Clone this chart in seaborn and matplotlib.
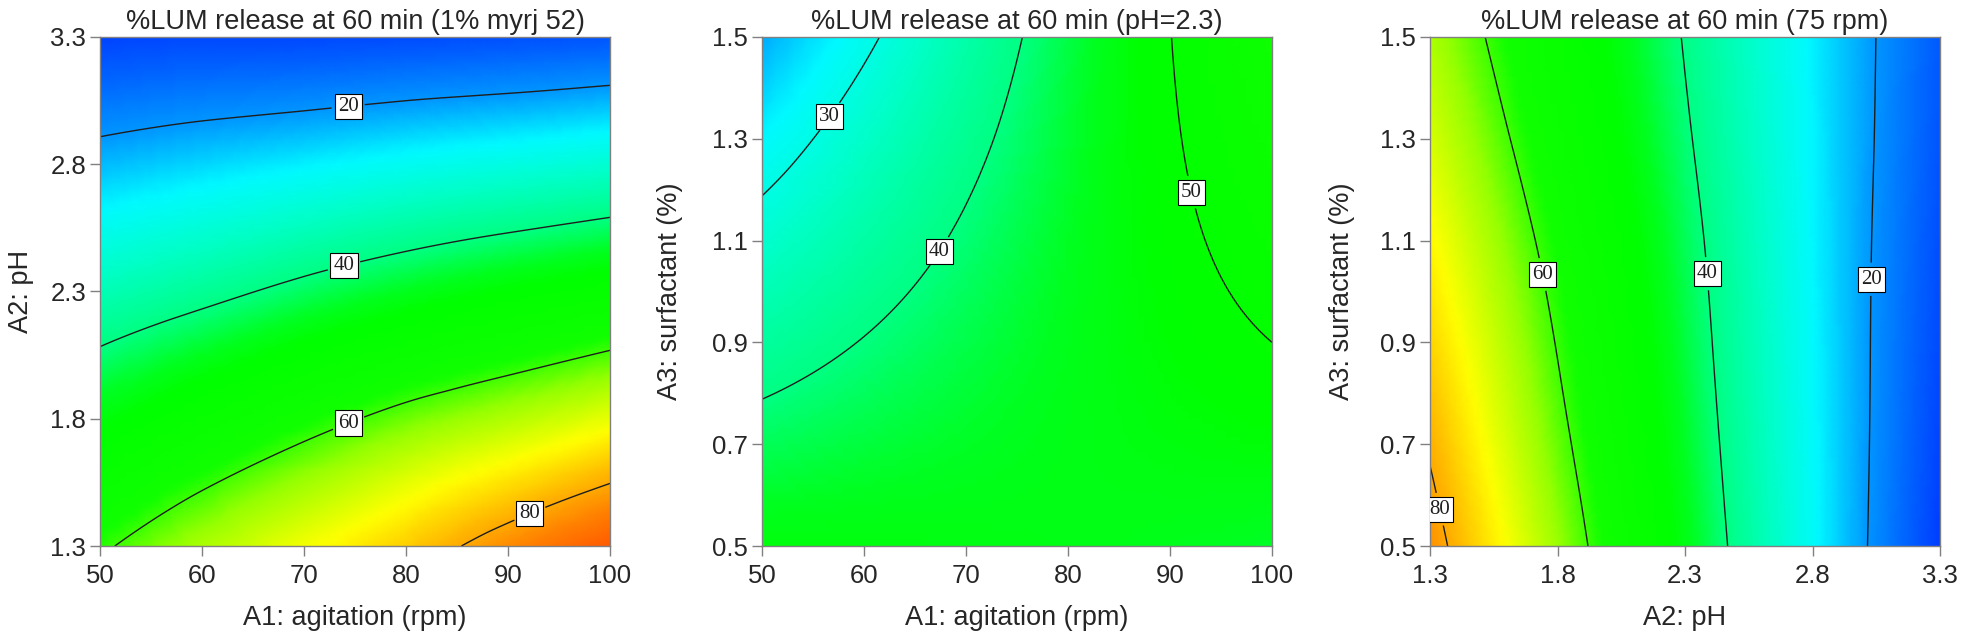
import numpy as np
import matplotlib
matplotlib.use('Agg')
import matplotlib.pyplot as plt
import matplotlib.tri as mtri
from matplotlib.colors import LinearSegmentedColormap
import seaborn as sns

# valores (superficies de respuesta %LUM a 60 min)
agitation = [50, 60, 70, 80, 90, 100]
ph = [1.3, 1.7, 2.1, 2.5, 2.9, 3.3]
surfactant = [0.5, 0.7, 0.9, 1.1, 1.3, 1.5]

# panel 1: filas = pH, columnas = agitacion (1% myrj 52)
lum_agit_ph = [
    [59.0, 65.5, 71.0, 76.5, 83.0, 89.3],
    [49.3, 55.1, 60.3, 65.3, 69.5, 74.1],
    [39.6, 43.7, 48.0, 52.0, 55.4, 58.8],
    [30.0, 32.7, 35.7, 38.6, 41.1, 43.5],
    [20.2, 21.9, 23.4, 25.1, 26.5, 28.1],
    [10.5, 11.1, 11.1, 11.5, 12.0, 12.7],
]
# panel 2: filas = surfactante, columnas = agitacion (pH=2.3)
lum_agit_surf = [
    [46.8, 46.7, 46.4, 46.0, 45.4, 44.6],
    [42.1, 43.5, 44.7, 45.8, 46.7, 47.4],
    [37.3, 40.2, 42.9, 45.4, 47.8, 50.0],
    [32.3, 36.6, 40.8, 44.8, 48.7, 52.4],
    [27.0, 32.9, 38.5, 44.0, 49.4, 54.6],
    [21.6, 28.9, 36.1, 43.1, 49.9, 56.6],
]
# panel 3: filas = surfactante, columnas = pH (75 rpm)
lum_ph_surf = [
    [82.5, 68.0, 53.4, 38.8, 24.2, 9.7],
    [79.3, 65.3, 51.6, 37.8, 24.2, 10.5],
    [75.8, 62.9, 49.9, 37.0, 24.1, 11.2],
    [72.5, 60.4, 48.3, 36.2, 24.0, 11.9],
    [68.9, 57.6, 46.4, 35.2, 24.0, 12.7],
    [65.7, 55.2, 44.8, 34.4, 23.9, 13.4],
]

titles = ['%LUM release at 60 min (1% myrj 52)',
          '%LUM release at 60 min (pH=2.3)',
          '%LUM release at 60 min (75 rpm)']
xlabels = ['A1: agitation (rpm)', 'A1: agitation (rpm)', 'A2: pH']
ylabels = ['A2: pH', 'A3: surfactant (%)', 'A3: surfactant (%)']
contour_levels = [[20, 40, 60, 80], [30, 40, 50], [20, 40, 60, 80]]
label_pos = [
    [(74.3, 3.04), (73.8, 2.42), (74.3, 1.79), (91.9, 1.45)],
    [(56.2, 1.35), (68.1, 1.07), (93.2, 1.20)],
    [(3.03, 1.024), (2.387, 1.035), (1.746, 1.034), (1.345, 0.573)],
]

# estilo
sns.set_style('ticks')
plt.rcParams['font.family'] = ['Liberation Sans', 'DejaVu Sans']

# mapa de color tipo Design-Expert
vmin, vmax = 8, 92
nodos = [(8, '#0030ff'), (14, '#0060ff'), (20, '#0096ff'), (27, '#00faff'),
         (33, '#00ffc8'), (40, '#00ff82'), (45, '#00ff1e'), (48, '#00ff00'),
         (58, '#10ff00'), (64, '#96ff00'), (72, '#ffff00'), (78, '#ffbe00'),
         (84, '#ff8200'), (92, '#ff4600')]
cmap = LinearSegmentedColormap.from_list(
    'dx', [((v - vmin) / (vmax - vmin), c) for v, c in nodos])

fig = plt.figure(figsize=(19.61, 6.31), dpi=100)
W, H = 1961, 631
lefts = [100, 762, 1430]
ylabel_x = [-0.130, -0.154, -0.148]
ax_w, ax_h, ax_bottom = 510, 509, 546

paneles = [
    (agitation, ph, lum_agit_ph, [50, 60, 70, 80, 90, 100], [1.3, 1.8, 2.3, 2.8, 3.3]),
    (agitation, surfactant, lum_agit_surf, [50, 60, 70, 80, 90, 100], [0.5, 0.7, 0.9, 1.1, 1.3, 1.5]),
    (ph, surfactant, lum_ph_surf, [1.3, 1.8, 2.3, 2.8, 3.3], [0.5, 0.7, 0.9, 1.1, 1.3, 1.5]),
]

for i, (xv, yv, zv, xt, yt) in enumerate(paneles):
    ax = fig.add_axes([lefts[i] / W, (H - ax_bottom) / H, ax_w / W, ax_h / H])
    X, Y = np.meshgrid(xv, yv)
    Z = np.array(zv)

    # triangulacion en coordenadas normalizadas para una malla regular
    xn = (X - min(xv)) / (max(xv) - min(xv))
    yn = (Y - min(yv)) / (max(yv) - min(yv))
    tri_n = mtri.Triangulation(xn.ravel(), yn.ravel())
    tri = mtri.Triangulation(X.ravel(), Y.ravel(), triangles=tri_n.triangles)
    interp = mtri.CubicTriInterpolator(tri, Z.ravel())
    refiner = mtri.UniformTriRefiner(tri)
    tri_r, z_r = refiner.refine_field(Z.ravel(), triinterpolator=interp, subdiv=4)

    ax.tripcolor(tri_r, z_r, shading='gouraud', cmap=cmap, vmin=vmin, vmax=vmax)
    cs = ax.tricontour(tri_r, z_r, levels=contour_levels[i], colors='#1e1e1e', linewidths=1.0)
    txts = ax.clabel(cs, manual=label_pos[i], inline=True, fmt='%d', fontsize=15)
    for t in txts:
        t.set_rotation(0)
        t.set_family('Liberation Serif')
        t.set_bbox(dict(boxstyle='square,pad=0.15', fc='white', ec='black', lw=0.8))

    ax.set_xlim(min(xv), max(xv))
    ax.set_ylim(min(yv), max(yv))
    ax.set_xticks(xt)
    ax.set_yticks(yt)
    ax.set_xticklabels([f'{v:g}' for v in xt])
    ax.set_yticklabels([f'{v:.1f}' for v in yt])
    ax.tick_params(direction='out', length=7, width=1, color='#808080', labelsize=18.5, pad=3)
    ax.tick_params(axis='x', pad=6)
    for sp in ax.spines.values():
        sp.set_color('#808080')
        sp.set_linewidth(1)
    ax.set_title(titles[i], fontsize=19.5, pad=6)
    ax.set_xlabel(xlabels[i], fontsize=19.5)
    ax.set_ylabel(ylabels[i], fontsize=19.5)
    ax.xaxis.set_label_coords(0.5, -0.116)
    ax.yaxis.set_label_coords(ylabel_x[i], 0.5)

fig.savefig('out.png', dpi=100)
